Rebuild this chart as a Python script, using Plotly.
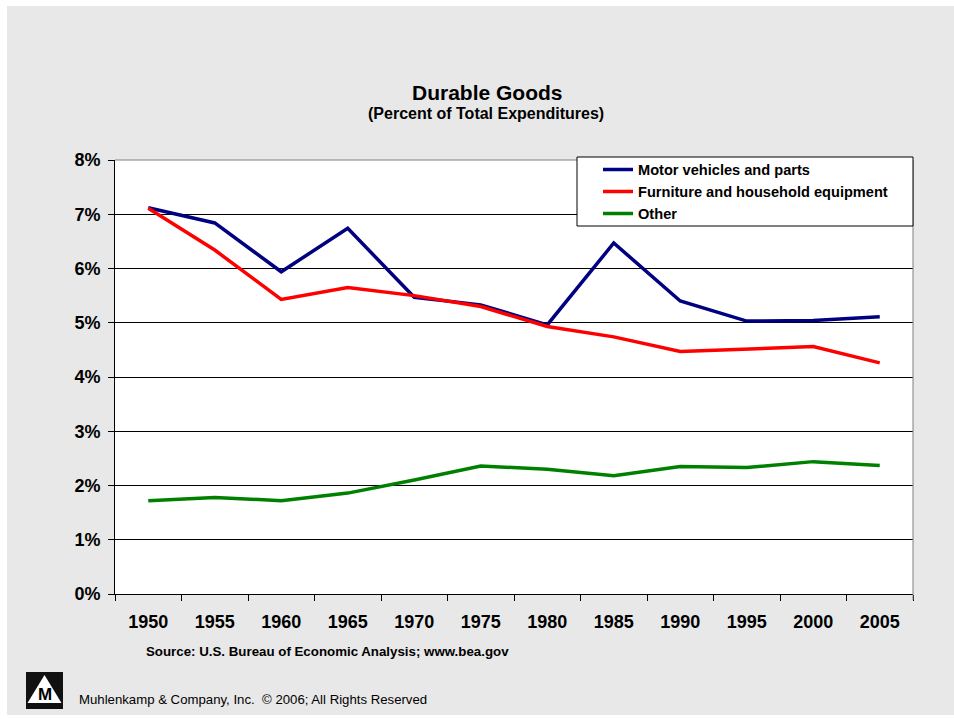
import plotly.graph_objects as go

years = ["1950", "1955", "1960", "1965", "1970", "1975", "1980", "1985", "1990", "1995", "2000", "2005"]
motor_vehicles = [7.12, 6.84, 5.94, 6.74, 5.47, 5.33, 4.96, 6.47, 5.40, 5.03, 5.04, 5.11]
furniture = [7.11, 6.34, 5.43, 5.65, 5.50, 5.30, 4.93, 4.74, 4.47, 4.52, 4.56, 4.26]
other = [1.72, 1.78, 1.72, 1.86, 2.10, 2.36, 2.30, 2.18, 2.35, 2.33, 2.44, 2.37]

series_names = ["Motor vehicles and parts", "Furniture and household equipment", "Other"]
series_colors = ["#000080", "#FF0000", "#008000"]

W, H = 954, 719
ML, MR, MT, MB = 115, 41, 160, 125
PW = W - ML - MR
PH = H - MT - MB

def px(x):
    return (x - ML) / PW

def py(y):
    return (H - MB - y) / PH

FONT = "Arial, 'Liberation Sans', sans-serif"

fig = go.Figure()
for name, vals, col in zip(series_names, [motor_vehicles, furniture, other], series_colors):
    fig.add_trace(go.Scatter(x=years, y=vals, mode="lines", name=name,
                             line=dict(color=col, width=3.5)))

shapes = [
    # white strips around gray page
    dict(type="rect", xref="paper", yref="paper", x0=px(0), x1=px(W), y0=py(0), y1=py(6),
         fillcolor="white", line=dict(width=0), layer="below"),
    dict(type="rect", xref="paper", yref="paper", x0=px(0), x1=px(7), y0=py(0), y1=py(H),
         fillcolor="white", line=dict(width=0), layer="below"),
    dict(type="rect", xref="paper", yref="paper", x0=px(0), x1=px(W), y0=py(715), y1=py(H),
         fillcolor="white", line=dict(width=0), layer="below"),
    # plot border top and right (gray)
    dict(type="line", xref="paper", yref="paper", x0=0, x1=1, y0=1, y1=1,
         line=dict(color="#808080", width=1), layer="above"),
    dict(type="line", xref="paper", yref="paper", x0=1, x1=1, y0=py(600), y1=1,
         line=dict(color="#808080", width=1), layer="above"),
    # legend box
    dict(type="rect", xref="paper", yref="paper", x0=px(577), x1=px(913), y0=py(226), y1=py(157),
         fillcolor="white", line=dict(color="black", width=1), layer="above"),
    # logo
    dict(type="rect", xref="paper", yref="paper", x0=px(26), x1=px(63), y0=py(709), y1=py(672),
         fillcolor="#111111", line=dict(width=0), layer="above"),
    dict(type="path", xref="paper", yref="paper",
         path="M {} {} L {} {} L {} {} Z".format(px(44.5), py(675), px(27.5), py(703), px(61.5), py(703)),
         fillcolor="white", line=dict(width=0), layer="above"),
]

annotations = [
    dict(text="Durable Goods", x=px(487), y=py(92), xref="paper", yref="paper", showarrow=False,
         xanchor="center", yanchor="middle", font=dict(family=FONT, size=21, color="black", weight="bold")),
    dict(text="(Percent of Total Expenditures)", x=px(486), y=py(114), xref="paper", yref="paper",
         showarrow=False, xanchor="center", yanchor="middle",
         font=dict(family=FONT, size=16, color="black", weight="bold")),
    dict(text="Source: U.S. Bureau of Economic Analysis; www.bea.gov", x=px(144), y=py(651),
         xref="paper", yref="paper", showarrow=False, xanchor="left", yanchor="middle",
         font=dict(family=FONT, size=13.3, color="black", weight="bold")),
    dict(text="Muhlenkamp &amp; Company, Inc. \u00a0\u00a9 2006; All Rights Reserved", x=px(77), y=py(699),
         xref="paper", yref="paper", showarrow=False, xanchor="left", yanchor="middle",
         font=dict(family=FONT, size=13.2, color="black")),
    dict(text="M", x=px(44.5), y=py(694), xref="paper", yref="paper", showarrow=False,
         xanchor="center", yanchor="middle", font=dict(family=FONT, size=17, color="black", weight="bold")),
]

fig.update_layout(
    width=W, height=H,
    margin=dict(l=ML, r=MR, t=MT, b=MB, pad=0),
    paper_bgcolor="#E8E8E8",
    plot_bgcolor="white",
    font=dict(family=FONT, color="black"),
    showlegend=True,
    legend=dict(x=px(598), y=py(153.5), xanchor="left", yanchor="top",
                bgcolor="rgba(0,0,0,0)", borderwidth=0,
                font=dict(family=FONT, size=14.6, color="black", weight="bold"),
                itemwidth=30, tracegroupgap=0),
    shapes=shapes,
    annotations=annotations,
    xaxis=dict(type="category", range=[-0.5, 11.5], showgrid=False, zeroline=False,
               showline=True, linecolor="black", linewidth=1,
               ticks="outside", ticklen=6, tickcolor="black", tickwidth=1, tickson="boundaries",
               tickfont=dict(family=FONT, size=18, color="black", weight="bold"),
               ticklabelstandoff=11, fixedrange=True),
    yaxis=dict(range=[0, 8], dtick=1, tick0=0, ticksuffix="%", showgrid=True, gridcolor="black",
               gridwidth=1, zeroline=False, showline=True, linecolor="black", linewidth=1,
               ticks="outside", ticklen=6, tickcolor="black", tickwidth=1,
               tickfont=dict(family=FONT, size=18, color="black", weight="bold"),
               ticklabelstandoff=4, fixedrange=True),
)

fig.write_html("out.html")
